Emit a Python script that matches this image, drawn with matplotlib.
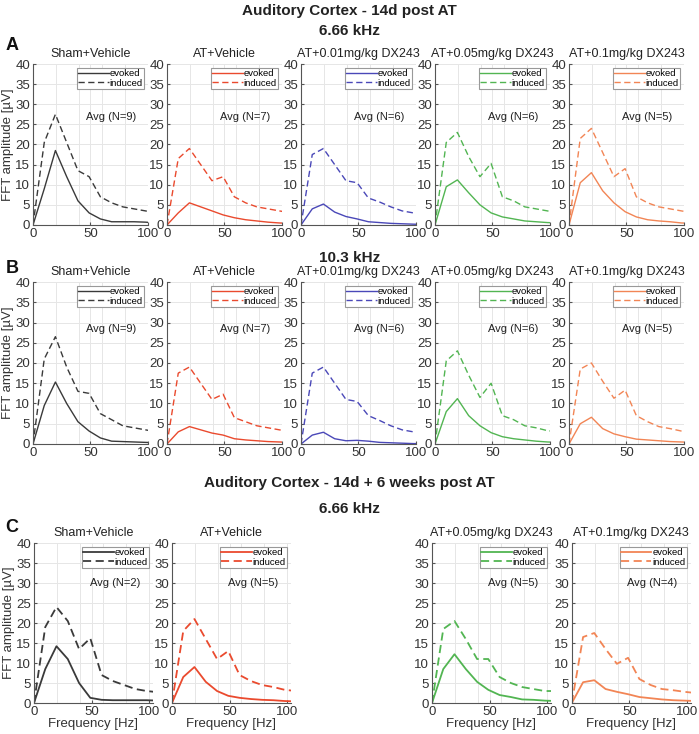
import matplotlib
matplotlib.use('Agg')
import matplotlib.pyplot as plt

plt.rcParams['font.family'] = ['Liberation Sans', 'DejaVu Sans']

#### DATA
freq = [0, 9.8, 19.5, 29.3, 39.1, 48.8, 58.6, 68.4, 78.1, 87.9, 97.7, 107.4]

groups = ['Sham+Vehicle', 'AT+Vehicle', 'AT+0.01mg/kg DX243', 'AT+0.05mg/kg DX243', 'AT+0.1mg/kg DX243']
colors = ['#3a3a3a', '#ea4a2e', '#4a48b8', '#52b552', '#f28555']

# row A: 14d post AT, 6.66 kHz
A_n = [9, 7, 6, 6, 5]
A_evoked = [
    [0, 9, 18.5, 12, 6, 3, 1.5, 0.8, 0.8, 0.8, 0.7, 0.5],
    [0, 3, 5.5, 4.5, 3.5, 2.5, 1.8, 1.3, 1, 0.7, 0.5, 0.4],
    [0, 4, 5.2, 3.2, 2.1, 1.5, 0.8, 0.6, 0.4, 0.3, 0.2, 0.1],
    [0, 9.5, 11.2, 8, 5, 3, 2, 1.5, 1, 0.8, 0.6, 0.5],
    [0, 10.5, 13, 8.5, 5.5, 3.3, 2, 1.3, 1, 0.8, 0.5, 0.4],
]
A_induced = [
    [0, 20.5, 27.5, 20.5, 13.5, 12, 7, 5.5, 4.5, 4, 3.5, 3],
    [0, 16.5, 19, 15, 11, 12, 7, 5.5, 4.5, 4, 3.5, 3],
    [0, 17.5, 19, 15, 11, 10.5, 6.7, 5.7, 4.5, 3.5, 3, 2.5],
    [0, 20.5, 23, 17, 12, 15.3, 7, 6, 4.5, 4, 3.5, 3],
    [0, 21.5, 24, 18, 12, 14, 7, 5.5, 4.5, 4, 3.5, 3],
]

# row B: 14d post AT, 10.3 kHz
B_n = [9, 7, 6, 6, 5]
B_evoked = [
    [0, 9.5, 15.3, 10, 5.5, 3.2, 1.5, 0.7, 0.6, 0.5, 0.4, 0.3],
    [0, 3, 4.3, 3.5, 2.7, 2.2, 1.3, 1, 0.8, 0.6, 0.5, 0.4],
    [0, 2.2, 2.9, 1.3, 0.8, 0.9, 0.7, 0.4, 0.3, 0.2, 0.1, 0.1],
    [0, 8, 11.2, 7, 4.5, 2.8, 1.8, 1.3, 1, 0.7, 0.5, 0.4],
    [0, 5, 6.6, 3.8, 2.5, 1.8, 1.2, 1, 0.8, 0.6, 0.5, 0.4],
]
B_induced = [
    [0, 21, 26.5, 19, 13, 12.5, 7.5, 6, 4.5, 4, 3.5, 3],
    [0, 17.5, 19, 15, 11, 12.3, 6.5, 5.5, 4.5, 4, 3.5, 3],
    [0, 17.5, 19, 15, 11, 10.5, 7, 5.8, 4.5, 3.5, 3, 2.8],
    [0, 20.5, 23, 17, 11.5, 15, 7, 6, 4.5, 4, 3.3, 3],
    [0, 18.5, 20, 15.5, 11.3, 13.3, 7, 5.5, 4.3, 3.8, 3.2, 2.8],
]

# row C: 14d + 6 weeks post AT, 6.66 kHz (no 0.01 group)
C_groups = [0, 1, 3, 4]
C_n = [2, 5, 5, 4]
C_evoked = [
    [0, 8.5, 14.2, 11, 5, 1.3, 0.8, 0.7, 0.7, 0.7, 0.7, 0.6],
    [0, 6.5, 9, 5.3, 3, 1.8, 1.3, 1, 0.8, 0.7, 0.5, 0.4],
    [0, 8.5, 12.2, 8.5, 5.3, 3.3, 2, 1.5, 0.9, 0.8, 0.6, 0.5],
    [0, 5.2, 5.7, 3.5, 2.8, 2.2, 1.5, 1.2, 0.9, 0.7, 0.6, 0.5],
]
C_induced = [
    [0, 19, 24, 20.5, 13.5, 16.2, 7, 5.5, 4.5, 3.5, 3, 2.7],
    [0, 18, 21, 16, 11, 13, 7, 5.5, 4.5, 4, 3.3, 3],
    [0, 18.5, 20.5, 16, 11, 11, 6.5, 5, 4, 3.5, 3, 3],
    [0, 16.5, 17.5, 13.5, 9.8, 11.3, 6, 4.5, 3.5, 3.2, 2.8, 2.5],
]


def panel(fig, rect, g, ev, ind, n, xmax, lw, avg_y, first, xlabel):
    ax = fig.add_axes(rect)
    ax.plot(freq, ev, color=colors[g], lw=lw, label='evoked')
    ax.plot(freq, ind, color=colors[g], lw=lw, ls='--', dashes=(4.5, 2.5), label='induced')
    ax.set_xlim(0, xmax)
    ax.set_ylim(0, 40)
    ax.set_xticks([0, 50, 100])
    ax.set_xticks([20, 40, 60, 80], minor=True)
    ax.set_yticks(range(0, 41, 5))
    ax.grid(True, which='both', color='#e6e6e6', lw=0.7)
    ax.set_axisbelow(True)
    for s in ['top', 'right']:
        ax.spines[s].set_visible(False)
    for s in ['left', 'bottom']:
        ax.spines[s].set_color('#555555')
        ax.spines[s].set_linewidth(0.8)
    ax.tick_params(which='both', direction='in', length=2.5, labelsize=9.5, colors='#555555',
                   labelcolor='#333333', pad=2)
    ax.tick_params(which='minor', length=0)
    ax.set_title(groups[g], fontsize=9, pad=5, color='#222222')
    leg = ax.legend(loc='upper right', fontsize=6.8, handlelength=3.2, handletextpad=0.1,
                    borderpad=0.15, labelspacing=0.05, borderaxespad=0.4, fancybox=False,
                    framealpha=1, edgecolor='#999999')
    leg.get_frame().set_linewidth(0.8)
    ax.text(0.68, avg_y, 'Avg (N=%d)' % n, transform=ax.transAxes, ha='center', va='center',
            fontsize=8, color='#222222')
    if first:
        ax.set_ylabel('FFT amplitude [\u00b5V]', fontsize=9.5, labelpad=1, color='#333333')
    if xlabel:
        ax.set_xlabel('Frequency [Hz]', fontsize=9.5, labelpad=0, color='#333333')
    return ax


fig = plt.figure(figsize=(6.99, 7.34), dpi=100)

lefts = [0.0472, 0.2389, 0.4306, 0.6223, 0.814]
for i in range(5):
    panel(fig, [lefts[i], 0.6935, 0.1645, 0.2193], i, A_evoked[i], A_induced[i], A_n[i],
          100, 1.0, 0.67, i == 0, False)
    panel(fig, [lefts[i], 0.3951, 0.1645, 0.2207], i, B_evoked[i], B_induced[i], B_n[i],
          100, 1.0, 0.71, i == 0, False)

lefts_c = [0.0486, 0.246, 0.618, 0.818]
for j, g in enumerate(C_groups):
    panel(fig, [lefts_c[j], 0.0422, 0.170, 0.218], g, C_evoked[j], C_induced[j], C_n[j],
          103, 1.3, 0.75, j == 0, True)

fig.text(0.5, 1 - 11 / 734, 'Auditory Cortex - 14d post AT', ha='center', va='center',
         fontsize=11, fontweight='bold', color='#222222')
fig.text(0.5, 1 - 31 / 734, '6.66 kHz', ha='center', va='center', fontsize=11,
         fontweight='bold', color='#222222')
fig.text(0.5, 1 - 258 / 734, '10.3 kHz', ha='center', va='center', fontsize=11,
         fontweight='bold', color='#222222')
fig.text(0.5, 1 - 483 / 734, 'Auditory Cortex - 14d + 6 weeks post AT', ha='center',
         va='center', fontsize=11, fontweight='bold', color='#222222')
fig.text(0.5, 1 - 509 / 734, '6.66 kHz', ha='center', va='center', fontsize=11,
         fontweight='bold', color='#222222')
for lab, y in [('A', 45), ('B', 268), ('C', 527)]:
    fig.text(0.008, 1 - y / 734, lab, ha='left', va='center', fontsize=13,
             fontweight='bold', color='#111111')

plt.savefig('out.png', dpi=100)
